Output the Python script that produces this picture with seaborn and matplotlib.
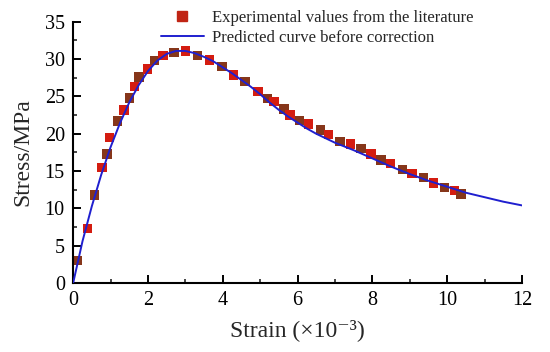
import numpy as np
import pandas as pd
import matplotlib
matplotlib.use('Agg')
import matplotlib.pyplot as plt
from matplotlib.lines import Line2D
from matplotlib.ticker import MultipleLocator
import seaborn as sns

# experimental points (strain x1e-3, stress MPa)
exp_strain = [0.12, 0.38, 0.57, 0.77, 0.90, 0.97, 1.19, 1.36, 1.51, 1.64, 1.76, 1.99,
              2.17, 2.40, 2.70, 3.01, 3.33, 3.64, 3.98, 4.29, 4.60, 4.94, 5.20, 5.37,
              5.64, 5.80, 6.05, 6.29, 6.62, 6.82, 7.14, 7.41, 7.70, 7.96, 8.23, 8.48,
              8.80, 9.06, 9.37, 9.63, 9.93, 10.19, 10.37]
exp_stress = [3.0, 7.3, 11.8, 15.5, 17.3, 19.5, 21.7, 23.2, 24.8, 26.3, 27.6, 28.7,
              29.8, 30.5, 30.9, 31.1, 30.5, 29.9, 29.0, 27.9, 27.0, 25.7, 24.7, 24.3,
              23.3, 22.5, 21.8, 21.3, 20.5, 19.9, 19.0, 18.6, 18.0, 17.3, 16.5, 16.0,
              15.2, 14.7, 14.1, 13.4, 12.8, 12.4, 11.9]

# predicted curve
pred_strain = [0, 0.25, 0.5, 0.75, 1.0, 1.25, 1.5, 1.75, 2.0, 2.25, 2.5, 2.75, 3.0,
               3.25, 3.5, 3.75, 4.0, 4.25, 4.5, 4.75, 5.0, 5.25, 5.5, 5.75, 6.0,
               6.25, 6.5, 6.75, 7.0, 7.5, 8.0, 8.5, 9.0, 9.5, 10.0, 10.5, 11.0, 11.5, 12.0]
pred_stress = [0, 5.6, 10.3, 14.5, 18.2, 21.4, 24.2, 26.5, 28.4, 29.8, 30.7, 31.1, 31.1,
               30.8, 30.3, 29.7, 28.9, 28.1, 27.2, 26.3, 25.3, 24.2, 23.2, 22.3, 21.5,
               20.7, 20.0, 19.4, 18.8, 17.8, 16.7, 15.6, 14.6, 13.7, 12.9, 12.1, 11.5,
               10.9, 10.4]

exp_df = pd.DataFrame({"strain": exp_strain, "stress": exp_stress})
exp_df["shade"] = ["a" if i % 2 else "b" for i in range(len(exp_df))]
pred_df = pd.DataFrame({"strain": pred_strain, "stress": pred_stress})

sns.set_theme(style="ticks")
plt.rcParams['font.family'] = ['Liberation Serif', 'DejaVu Serif']

fig = plt.figure(figsize=(5.5, 3.52), dpi=100)
ax = fig.add_axes([0.133, 0.196, 0.816, 0.742])

sns.scatterplot(data=exp_df, x="strain", y="stress", hue="shade",
                palette={"a": "#d41c10", "b": "#86361a"}, marker="s", s=46,
                edgecolor="none", legend=False, ax=ax, zorder=2)
sns.lineplot(data=pred_df, x="strain", y="stress", color="#1f1fcf", lw=1.4,
             ax=ax, zorder=3)

ax.set_xlim(0, 12)
ax.set_ylim(0, 35)
ax.xaxis.set_major_locator(MultipleLocator(2))
ax.xaxis.set_minor_locator(MultipleLocator(1))
ax.yaxis.set_major_locator(MultipleLocator(5))
ax.yaxis.set_minor_locator(MultipleLocator(2.5))
ax.tick_params(which="major", direction="in", length=6, width=1.4, labelsize=14.5,
               colors="black")
ax.tick_params(axis="x", which="major", pad=6)
ax.tick_params(axis="y", which="major", pad=6)
ax.tick_params(which="minor", direction="in", length=3, width=1.2)
for side in ["top", "right"]:
    ax.spines[side].set_visible(False)
for side in ["left", "bottom"]:
    ax.spines[side].set_linewidth(1.5)
    ax.spines[side].set_color("black")

ax.set_xlabel("Strain (×10⁻³)", fontsize=17, labelpad=6)
ax.set_ylabel("Stress/MPa", fontsize=17, labelpad=8)

handles = [
    Line2D([], [], marker="s", color="#c02414", linestyle="none", markersize=7),
    Line2D([], [], color="#1f1fcf", lw=1.4),
]
labels = ["Experimental values from the literature", "Predicted curve before correction"]
ax.legend(handles, labels, loc="upper left", bbox_to_anchor=(0.18, 1.07),
          frameon=False, fontsize=12, handlelength=2.6, handletextpad=0.5,
          labelspacing=0.2, borderaxespad=0)

fig.savefig("out.png", dpi=100)
